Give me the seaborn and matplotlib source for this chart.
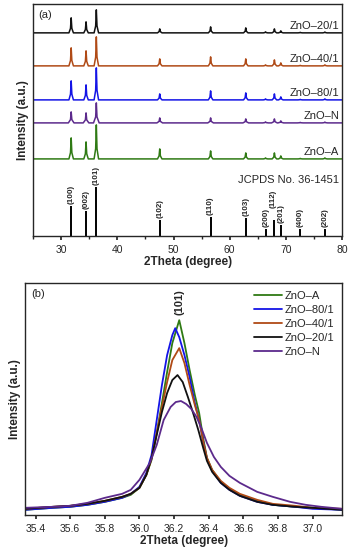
import numpy as np
import pandas as pd
import matplotlib
matplotlib.use("Agg")
import matplotlib.pyplot as plt
import seaborn as sns

# ---------------- data ----------------
# panel (a): peak positions (2theta) and heights
peak_pos = [31.77, 34.42, 36.25, 47.54, 56.60, 62.86, 66.38, 67.96, 69.10, 72.56, 76.95]
hkl = ["(100)", "(002)", "(101)", "(102)", "(110)", "(103)",
       "(200)", "(112)", "(201)", "(400)", "(202)"]
jcpds_int = [30, 25, 49, 16, 19, 18, 7, 16, 11, 7, 7]

samples_a = ["ZnO\u201320/1", "ZnO\u201340/1", "ZnO\u201380/1", "ZnO\u2013N", "ZnO\u2013A"]
offsets_a = [203, 170, 136, 113, 77]
h_20 = [15, 11, 23, 4, 6, 5, 1, 4, 2, 0.5, 0.8]
h_40 = [18, 15, 29, 7, 9, 7, 1, 6, 3, 0.5, 1]
h_80 = [19, 15, 32, 6, 9, 7, 1, 6, 3, 0.5, 1]
h_N = [11, 10, 20, 5, 5, 4, 1, 4, 2, 0.5, 0.8]
h_A = [21, 17, 34, 10, 8, 6, 1, 6, 3, 0.5, 1]
heights_a = [h_20, h_40, h_80, h_N, h_A]

# panel (b): zoom on the (101) reflection
x_A = [35.34, 35.5, 35.6, 35.7, 35.8, 35.9, 35.95, 36.0, 36.04, 36.07, 36.1, 36.13, 36.16, 36.19,
       36.23, 36.26, 36.29, 36.32, 36.345, 36.37, 36.39, 36.42, 36.47, 36.52, 36.58, 36.68,
       36.77, 36.9, 37.0, 37.17]
y_A = [5, 7, 8, 10, 13, 17, 20, 27, 40, 55, 82, 112, 143, 172,
       195, 172, 145, 120, 102, 75, 57, 45, 33, 26, 20, 14,
       10, 8, 7, 5]
x_80 = [35.34, 35.5, 35.6, 35.7, 35.8, 35.9, 35.95, 36.0, 36.04, 36.07, 36.1, 36.13, 36.16, 36.19,
        36.207, 36.23, 36.26, 36.29, 36.32, 36.345, 36.37, 36.39, 36.42, 36.47, 36.52, 36.58,
        36.68, 36.77, 36.9, 37.0, 37.17]
y_80 = [5, 7, 8, 10, 13, 17, 21, 28, 42, 60, 95, 130, 160, 180,
        187, 178, 160, 138, 112, 95, 72, 56, 44, 32, 25, 19,
        13, 10, 8, 6, 5]
x_40 = [35.34, 35.5, 35.6, 35.7, 35.8, 35.9, 35.95, 36.0, 36.04, 36.07, 36.1, 36.13, 36.16, 36.19,
        36.23, 36.26, 36.29, 36.32, 36.345, 36.37, 36.39, 36.42, 36.47, 36.52, 36.58, 36.68,
        36.77, 36.9, 37.0, 37.17]
y_40 = [6, 8, 9, 11, 14, 18, 21, 27, 40, 56, 82, 108, 133, 155,
        167, 152, 130, 110, 95, 72, 57, 45, 34, 27, 21, 15,
        11, 9, 7, 6]
x_20 = [35.34, 35.5, 35.6, 35.7, 35.8, 35.9, 35.95, 36.0, 36.04, 36.07, 36.1, 36.13, 36.16, 36.19,
        36.22, 36.25, 36.28, 36.31, 36.34, 36.37, 36.39, 36.42, 36.47, 36.52, 36.58, 36.68,
        36.77, 36.9, 37.0, 37.17]
y_20 = [6, 8, 9, 11, 14, 18, 21, 27, 40, 57, 80, 103, 122, 135,
        140, 133, 118, 102, 85, 66, 54, 43, 32, 25, 19, 13,
        10, 8, 7, 5]
x_N = [35.34, 35.5, 35.6, 35.7, 35.8, 35.9, 35.95, 36.0, 36.06, 36.1, 36.14, 36.18, 36.21,
       36.24, 36.27, 36.30, 36.33, 36.36, 36.39, 36.43, 36.47, 36.52, 36.58, 36.68, 36.77,
       36.87, 36.96, 37.05, 37.17]
y_N = [7, 8, 9, 12, 17, 21, 25, 35, 52, 70, 95, 108, 113,
       114, 111, 106, 98, 86, 72, 58, 48, 39, 32, 23, 18,
       13, 10, 8, 6]

samples_b = ["ZnO\u2013A", "ZnO\u201380/1", "ZnO\u201340/1", "ZnO\u201320/1", "ZnO\u2013N"]
curves_b = [(x_A, y_A), (x_80, y_80), (x_40, y_40), (x_20, y_20), (x_N, y_N)]

colors = {
    "ZnO\u201320/1": "#111111",
    "ZnO\u201340/1": "#b04a16",
    "ZnO\u201380/1": "#1414e6",
    "ZnO\u2013N": "#5c2a8c",
    "ZnO\u2013A": "#2f7a14",
}
half_w = {"ZnO\u2013N": 0.5}
# small nudges so the crowded hkl labels don't collide (x in degrees, y in a.u.)
label_nudge = {"(200)": (0.15, 0), "(112)": (-0.2, 10), "(201)": (0.1, 0)}

# ---------------- style ----------------
sns.set_theme(style="ticks")
plt.rcParams["font.family"] = ["Liberation Sans", "DejaVu Sans"]
plt.rcParams["axes.linewidth"] = 1.0
plt.rcParams["xtick.major.size"] = 3
plt.rcParams["xtick.minor.size"] = 2
plt.rcParams["xtick.labelsize"] = 7.5

fig = plt.figure(figsize=(3.49, 5.5), dpi=100)
ax1 = fig.add_axes([0.095, 0.571, 0.885, 0.422])
ax2 = fig.add_axes([0.072, 0.064, 0.908, 0.421])


def peak_polyline(heights, w):
    # triangle-ish peaks on a flat baseline, from the read positions/heights
    xs, ys = [25.0], [0.0]
    for p, h in zip(peak_pos, heights):
        xs += [p - w, p - 0.12, p, p + 0.12, p + w]
        ys += [0.0, 0.3 * h, h, 0.3 * h, 0.0]
    xs.append(80.0)
    ys.append(0.0)
    return np.array(xs), np.array(ys)


# ---------------- panel (a) ----------------
for name, off, hts in zip(samples_a, offsets_a, heights_a):
    xs, ys = peak_polyline(hts, half_w.get(name, 0.4))
    df = pd.DataFrame({"x": xs, "y": ys + off})
    sns.lineplot(data=df, x="x", y="y", ax=ax1, color=colors[name], lw=1.1,
                 sort=False, estimator=None)
    ax1.text(79.5, off + 2, name, ha="right", va="bottom", fontsize=8)

ax1.vlines(peak_pos, 0, jcpds_int, color="black", lw=1.4)
for p, h, lab in zip(peak_pos, jcpds_int, hkl):
    dx, dy = label_nudge.get(lab, (0, 0))
    ax1.text(p + dx, h + 1.5 + dy, lab, rotation=90, ha="center", va="bottom",
             fontsize=5.8, fontweight="bold")
ax1.text(79.5, 56, "JCPDS No. 36-1451", ha="right", va="center", fontsize=8)
ax1.text(0.018, 0.975, "(a)", transform=ax1.transAxes, ha="left", va="top", fontsize=8)

ax1.set_xlim(25, 80)
ax1.set_ylim(0, 232)
ax1.set_xticks([30, 40, 50, 60, 70, 80])
ax1.set_xticks(np.arange(25, 81, 5), minor=True)
ax1.set_yticks([])
ax1.set_xlabel("2Theta (degree)", fontsize=8.5, fontweight="bold", labelpad=1)
ax1.set_ylabel("Intensity (a.u.)", fontsize=8.5, fontweight="bold", labelpad=3)

# ---------------- panel (b) ----------------
for name, (xs, ys) in zip(samples_b, curves_b):
    df = pd.DataFrame({"x": xs, "y": ys})
    sns.lineplot(data=df, x="x", y="y", ax=ax2, color=colors[name], lw=1.3,
                 label=name, sort=False, estimator=None)

ax2.text(36.23, 200, "(101)", rotation=90, ha="center", va="bottom",
         fontsize=8, fontweight="bold")
ax2.text(0.018, 0.975, "(b)", transform=ax2.transAxes, ha="left", va="top", fontsize=8)
ax2.legend(loc="upper right", frameon=False, fontsize=8, handlelength=2.6,
           handletextpad=0.2, labelspacing=0.35, borderaxespad=0.3)

ax2.set_xlim(35.34, 37.17)
ax2.set_ylim(0, 232)
ax2.set_xticks([35.4, 35.6, 35.8, 36.0, 36.2, 36.4, 36.6, 36.8, 37.0])
ax2.set_yticks([])
ax2.set_xlabel("2Theta (degree)", fontsize=8.5, fontweight="bold", labelpad=1)
ax2.set_ylabel("Intensity (a.u.)", fontsize=8.5, fontweight="bold", labelpad=3)

fig.savefig("out.png", dpi=100)
